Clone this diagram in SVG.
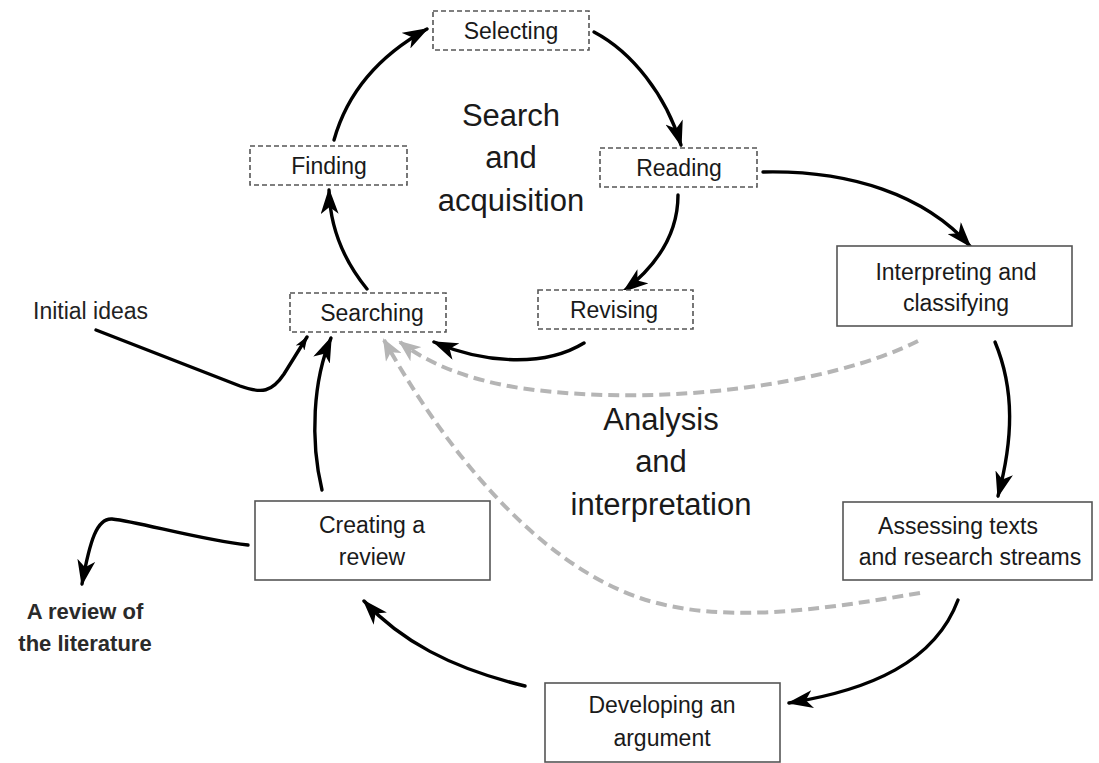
<svg xmlns="http://www.w3.org/2000/svg" width="1099" height="763" viewBox="0 0 1099 763">
<style>
.dbox{fill:#fff;stroke:#555;stroke-width:1.6;stroke-dasharray:5 3}
.sbox{fill:#fff;stroke:#555;stroke-width:1.6}
.t{font-family:"Liberation Sans",Arial,sans-serif;font-size:23px;fill:#1a1a1a;text-anchor:middle}
.big{font-family:"Liberation Sans",Arial,sans-serif;font-size:31px;fill:#1a1a1a;text-anchor:middle}
.lbl{font-family:"Liberation Sans",Arial,sans-serif;font-size:23px;fill:#222}
.lblb{font-family:"Liberation Sans",Arial,sans-serif;font-size:22px;font-weight:bold;fill:#2a2a2a;text-anchor:middle}
.c{fill:none;stroke:#000;stroke-width:3.4;stroke-linecap:round}
.g{fill:none;stroke:#b5b5b5;stroke-width:4;stroke-dasharray:11 6}
</style>
<defs>
<marker id="ah" viewBox="0 0 26 18" refX="24" refY="9" markerWidth="26" markerHeight="18" markerUnits="userSpaceOnUse" orient="auto"><path d="M0,0 L26,9 L0,18 L7,9 z" fill="#000"/></marker>
<marker id="as" viewBox="0 0 14 10" refX="13" refY="5" markerWidth="14" markerHeight="10" markerUnits="userSpaceOnUse" orient="auto"><path d="M0,0 L14,5 L0,10 L4,5 z" fill="#000"/></marker>
<marker id="ag" viewBox="0 0 22 18" refX="20" refY="9" markerWidth="22" markerHeight="18" markerUnits="userSpaceOnUse" orient="auto"><path d="M0,0 L22,9 L0,18 L6,9 z" fill="#b5b5b5"/></marker>
</defs>
<rect width="1099" height="763" fill="#fff"/>

<g id="connectors">
<path class="g" d="M918,341 C830,385 660,408 520,388 C470,380 430,365 400,342" marker-end="url(#ag)"/>
<path class="g" d="M920,593 C820,610 720,625 640,598 C530,560 440,440 384,340" marker-end="url(#ag)"/>
<path class="c" d="M334,140 C348,90 380,55 427,29" marker-end="url(#ah)"/>
<path class="c" d="M594,32 C632,52 666,95 681,145" marker-end="url(#ah)"/>
<path class="c" d="M678,195 C678,232 660,263 624,291" marker-end="url(#ah)"/>
<path class="c" d="M584,343 C545,367 485,364 434,342" marker-end="url(#ah)"/>
<path class="c" d="M367,289 C345,262 330,228 329,190" marker-end="url(#ah)"/>
<path class="c" d="M763,172 C850,170 925,195 970,246" marker-end="url(#ah)"/>
<path class="c" d="M995,342 C1015,390 1013,440 998,496" marker-end="url(#ah)"/>
<path class="c" d="M958,600 C935,662 870,690 789,703" marker-end="url(#ah)"/>
<path class="c" d="M525,686 C450,668 400,640 364,601" marker-end="url(#ah)"/>
<path class="c" d="M322,490 C310,440 313,380 331,338" marker-end="url(#ah)"/>
<path class="c" d="M96,330 L240,386 C262,394 272,392 284,374 L307,337" marker-end="url(#as)"/>
<path class="c" d="M248,545 C200,540 140,522 112,519 C97,518 90,540 82,584" marker-end="url(#ah)"/>
</g>

<g id="selecting"><rect class="dbox" x="433" y="11" width="156" height="39"/><text class="t" x="511" y="39">Selecting</text></g>
<g id="finding"><rect class="dbox" x="250" y="146" width="157" height="39"/><text class="t" x="329" y="174">Finding</text></g>
<g id="reading"><rect class="dbox" x="600" y="148" width="157" height="39"/><text class="t" x="679" y="176">Reading</text></g>
<g id="searching"><rect class="dbox" x="290" y="293" width="156" height="39"/><text class="t" x="372" y="321">Searching</text></g>
<g id="revising"><rect class="dbox" x="538" y="290" width="155" height="39"/><text class="t" x="614" y="318">Revising</text></g>
<g id="interpreting"><rect class="sbox" x="837" y="246" width="235" height="80"/><text class="t" x="956" y="280">Interpreting and</text><text class="t" x="956" y="311">classifying</text></g>
<g id="assessing"><rect class="sbox" x="843" y="502" width="249" height="78"/><text class="t" x="958" y="534">Assessing texts</text><text class="t" x="970" y="565">and research streams</text></g>
<g id="developing"><rect class="sbox" x="545" y="683" width="235" height="79"/><text class="t" x="662" y="713">Developing an</text><text class="t" x="662" y="746">argument</text></g>
<g id="creating"><rect class="sbox" x="255" y="501" width="235" height="79"/><text class="t" x="372" y="533">Creating a</text><text class="t" x="372" y="565">review</text></g>

<g id="labels">
<text class="big" x="511" y="126">Search</text>
<text class="big" x="511" y="168">and</text>
<text class="big" x="511" y="211">acquisition</text>
<text class="big" x="661" y="430">Analysis</text>
<text class="big" x="661" y="472">and</text>
<text class="big" x="661" y="515">interpretation</text>
<text class="lbl" x="33" y="319">Initial ideas</text>
<text class="lblb" x="85" y="619">A review of</text>
<text class="lblb" x="85" y="651">the literature</text>
</g>
</svg>
